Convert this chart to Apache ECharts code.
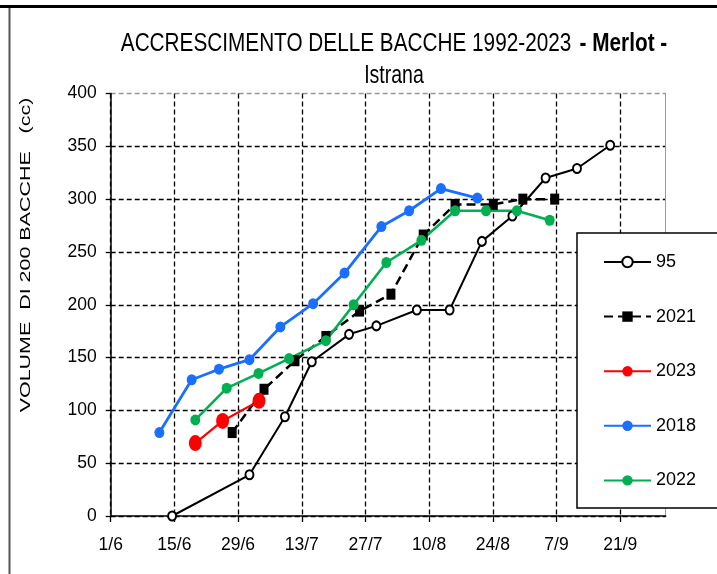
<!DOCTYPE html>
<html>
<head>
<meta charset="utf-8">
<script src="https://cdn.jsdelivr.net/npm/echarts@6/dist/echarts.min.js"></script>
<style>
  html, body { margin: 0; padding: 0; background: #fff; }
  #chart { width: 717px; height: 574px; }
</style>
</head>
<body>
<div id="chart"></div>
<script>
// x values are days counted from 1 June
const tickLabels = ['1/6', '15/6', '29/6', '13/7', '27/7', '10/8', '24/8', '7/9', '21/9'];

const days95 = [13.5, 30.5, 38.3, 44.2, 52.4, 58.4, 67.3, 74.5, 81.6, 88.3, 95.6, 102.5, 109.8];
const vol95  = [0, 39, 94, 146, 172, 180, 195, 195, 260, 284, 320, 329, 351];

const days2021 = [26.7, 33.7, 40.5, 47.3, 54.7, 61.6, 68.7, 75.7, 84.1, 90.6, 97.6];
const vol2021  = [79, 120, 147, 170, 194, 210, 266, 295, 295, 300, 300];

const days2023 = [18.6, 24.6, 32.6];
const vol2023  = [69, 90, 109];

const days2018 = [10.7, 17.8, 23.8, 30.5, 37.3, 44.5, 51.4, 59.5, 65.6, 72.6, 80.6];
const vol2018  = [79, 129, 139, 148, 179, 201, 230, 274, 289, 310, 301];

const days2022 = [18.6, 25.5, 32.5, 39.2, 47.3, 53.4, 60.6, 68.3, 75.7, 82.5, 89.3, 96.5];
const vol2022  = [91, 121, 135, 149, 166, 200, 240, 261, 289, 289, 289, 280];

const titleMain = 'ACCRESCIMENTO DELLE BACCHE 1992-2023';
const titleVariety = '- Merlot -';
const titleSite = 'Istrana';
const yName = 'VOLUME  DI 200 BACCHE   (cc)';

const pairs = (xs, ys) => xs.map((x, i) => [x, ys[i]]);
const FONT = "'Liberation Sans', Arial, sans-serif";
const tickDays = tickLabels.map((_, i) => i * 14);

const chart = echarts.init(document.getElementById('chart'), null, { renderer: 'canvas' });
chart.setOption({
  animation: false,
  backgroundColor: '#fff',
  grid: { left: 110.7, right: 51.3, top: 93.5, bottom: 58, containLabel: false },
  xAxis: {
    type: 'value', min: 0, max: 122,
    axisLine: { show: true, onZero: false, lineStyle: { color: '#000', width: 1.5 } },
    axisTick: { show: true, length: 6, customValues: tickDays, lineStyle: { color: '#000', width: 1.3 } },
    axisLabel: {
      customValues: tickDays, margin: 20,
      fontFamily: FONT, fontSize: 17.5, color: '#000',
      formatter: v => tickLabels[Math.round(v / 14)] || ''
    },
    splitLine: { show: true, lineStyle: { color: '#000', type: [5, 3], width: 1.3 } }
  },
  yAxis: [
    {
      type: 'value', min: 0, max: 400, interval: 50,
      axisLine: { show: true, lineStyle: { color: '#000', width: 1.5 } },
      axisTick: { show: true, length: 5, lineStyle: { color: '#000', width: 1.3 } },
      axisLabel: { margin: 14, fontFamily: FONT, fontSize: 17.5, color: '#000' },
      splitLine: { show: true, lineStyle: { color: ['#000','#000','#000','#000','#000','#000','#000','#000','#999'], type: [5, 3], width: 1.3 } }
    },
    {
      type: 'value', min: 0, max: 400, interval: 50, position: 'right',
      axisLine: { show: true, lineStyle: { color: '#999', width: 1 } },
      axisTick: { show: false }, axisLabel: { show: false }, splitLine: { show: false }
    }
  ],
  legend: {
    orient: 'vertical', left: 577, top: 233, z: 60,
    padding: [19, 0, 0, 26],
    itemWidth: 47, itemHeight: 13, itemGap: 34.6,
    textStyle: { fontFamily: FONT, fontSize: 18, lineHeight: 20, color: '#000' },
    data: ['95', '2021', '2023', '2018', '2022']
  },
  graphic: [
    { type: 'rect', z: 50, shape: { x: 577, y: 233, width: 160, height: 275 },
      style: { fill: '#fff', stroke: '#000', lineWidth: 1.5 } },
    { type: 'line', z: 50, shape: { x1: 0, y1: 6.5, x2: 717, y2: 6.5 },
      style: { stroke: '#000', lineWidth: 3 } },
    { type: 'line', z: 50, shape: { x1: 9.5, y1: 8, x2: 9.5, y2: 574 },
      style: { stroke: '#555', lineWidth: 2 } },
    { type: 'text', z: 50, x: 394, y: 44.5, scaleX: 0.83, scaleY: 1,
      style: {
        text: '{n|' + titleMain + '}   {b|' + titleVariety + '}',
        textAlign: 'center', textVerticalAlign: 'middle',
        rich: {
          n: { fontFamily: FONT, fontSize: 25, fontWeight: 'normal', fill: '#000', color: '#000' },
          b: { fontFamily: FONT, fontSize: 25, fontWeight: 'bold', fill: '#000', color: '#000' }
        }
      } },
    { type: 'text', z: 50, x: 394, y: 76, scaleX: 0.78, scaleY: 1,
      style: { text: titleSite, font: '25px ' + FONT, fill: '#000',
               textAlign: 'center', textVerticalAlign: 'middle' } },
    { type: 'text', z: 50, x: 26, y: 255, rotation: Math.PI / 2, scaleX: 1.43, scaleY: 1,
      style: { text: yName, font: '15px ' + FONT,
               fill: '#000', textAlign: 'center', textVerticalAlign: 'middle' } }
  ],
  series: [
    {
      name: '95', type: 'line', data: pairs(days95, vol95),
      symbol: 'emptyCircle', symbolSize: [8, 9],
      lineStyle: { color: '#000', width: 2 },
      itemStyle: { color: '#000', borderWidth: 1.2 }, z: 3
    },
    {
      name: '2021', type: 'line', data: pairs(days2021, vol2021),
      symbol: 'rect', symbolSize: [9, 11],
      lineStyle: { color: '#000', width: 2.5, type: [9, 5] },
      itemStyle: { color: '#000' }, z: 3
    },
    {
      name: '2023', type: 'line', data: pairs(days2023, vol2023),
      symbol: 'circle', symbolSize: [13, 16],
      lineStyle: { color: '#FF0000', width: 2.2 },
      itemStyle: { color: '#FF0000' }, z: 4
    },
    {
      name: '2018', type: 'line', data: pairs(days2018, vol2018),
      symbol: 'circle', symbolSize: [10, 11],
      lineStyle: { color: '#1A6FFF', width: 2.8 },
      itemStyle: { color: '#1A6FFF' }, z: 3
    },
    {
      name: '2022', type: 'line', data: pairs(days2022, vol2022),
      symbol: 'circle', symbolSize: [10, 11],
      lineStyle: { color: '#00B050', width: 2.6 },
      itemStyle: { color: '#00B050' }, z: 3
    }
  ]
});
</script>
</body>
</html>
